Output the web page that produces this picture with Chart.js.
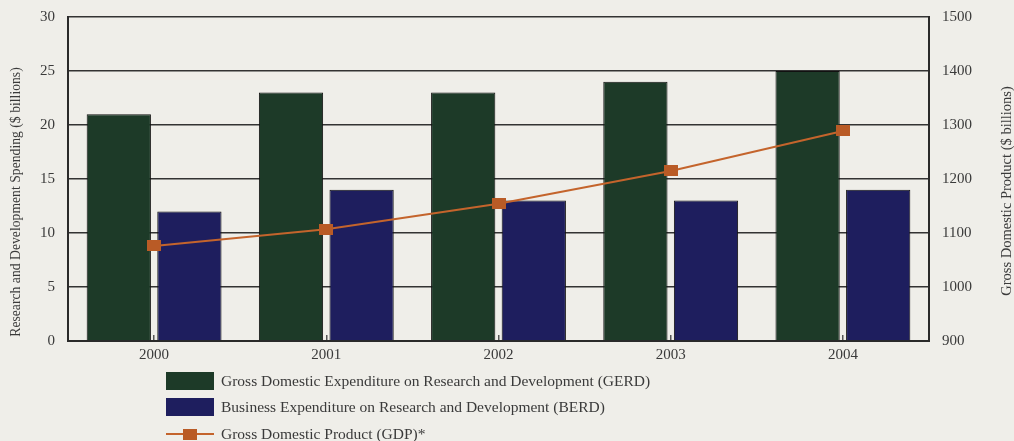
<!DOCTYPE html>
<html>
<head>
<meta charset="utf-8">
<script src="https://cdn.jsdelivr.net/npm/chart.js@4/dist/chart.umd.min.js"></script>
<style>
  html, body { margin: 0; padding: 0; background: #efeee9; }
  #wrap { width: 1014px; height: 441px; position: relative; }
</style>
</head>
<body>
<div id="wrap"><canvas id="c" width="1014" height="441"></canvas></div>
<script>
// Data
const years = ['2000', '2001', '2002', '2003', '2004'];
const gerd = [21, 23, 23, 24, 25];
const berd = [12, 14, 13, 13, 14];
const gdp = [1076, 1107, 1154, 1215, 1289];
const leftTicks = [0, 5, 10, 15, 20, 25, 30];
const rightTicks = [900, 1000, 1100, 1200, 1300, 1400, 1500];
const seriesNames = [
  'Gross Domestic Expenditure on Research and Development (GERD)',
  'Business Expenditure on Research and Development (BERD)',
  'Gross Domestic Product (GDP)*'
];
const leftTitle = 'Research and Development Spending ($ billions)';
const rightTitle = 'Gross Domestic Product ($ billions)';

// Styles
const FONT = '"Liberation Serif", "DejaVu Serif", serif';
const TEXT = '#3a3a3a';
const GREEN = '#1d3a28';
const NAVY = '#1e1e5e';
const ORANGE = '#c4642c';
const MARK = '#b95b26';

// Small rectangular marker for the GDP line
const marker = document.createElement('canvas');
marker.width = 14; marker.height = 11;
(function () {
  const m = marker.getContext('2d');
  m.fillStyle = MARK;
  m.fillRect(0, 0, 14, 11);
})();

// Axis titles, both reading bottom-to-top
const axisTitles = {
  id: 'axisTitles',
  afterDraw(chart) {
    const ctx = chart.ctx;
    ctx.save();
    ctx.fillStyle = TEXT;
    ctx.textAlign = 'center';
    ctx.textBaseline = 'middle';
    [[16, 202, 13.7, leftTitle], [1007, 191, 14.5, rightTitle]].forEach(([x, y, size, t]) => {
      ctx.save();
      ctx.font = size + 'px ' + FONT;
      ctx.translate(x, y);
      ctx.rotate(-Math.PI / 2);
      ctx.fillText(t, 0, 0);
      ctx.restore();
    });
    ctx.restore();
  }
};

// Stacked legend below the plot
const stackedLegend = {
  id: 'stackedLegend',
  afterDraw(chart) {
    const ctx = chart.ctx;
    const bx = 166, bw = 48, tx = 221;
    const rows = [381, 407, 434];
    ctx.save();
    ctx.font = '15.5px ' + FONT;
    ctx.textBaseline = 'middle';
    ctx.textAlign = 'left';
    const ds = chart.data.datasets;
    const items = [ds[1], ds[2], ds[0]];
    items.forEach((d, i) => {
      const y = rows[i];
      if (d.type === 'line') {
        ctx.strokeStyle = d.borderColor;
        ctx.lineWidth = 2;
        ctx.beginPath();
        ctx.moveTo(bx, y);
        ctx.lineTo(bx + bw, y);
        ctx.stroke();
        ctx.drawImage(marker, bx + bw / 2 - 7, y - 5.5);
      } else {
        ctx.fillStyle = d.backgroundColor;
        ctx.fillRect(bx, y - 9, bw, 18);
      }
      ctx.fillStyle = TEXT;
      ctx.fillText(d.label, tx, y + 1);
    });
    ctx.restore();
  }
};

// Fixed axis sizes so the plot area lines up with the page layout
const fitVertical = width => s => {
  s.width = width;
  s.paddingTop = 4;
  s.paddingBottom = 4;
};

new Chart(document.getElementById('c'), {
  data: {
    labels: years,
    datasets: [
      {
        type: 'line', label: seriesNames[2], data: gdp, yAxisID: 'y1', order: 0,
        borderColor: ORANGE, borderWidth: 2, tension: 0,
        pointStyle: marker, pointRadius: 7, pointHoverRadius: 7,
        backgroundColor: MARK
      },
      {
        type: 'bar', label: seriesNames[0], data: gerd, yAxisID: 'y', order: 1,
        backgroundColor: GREEN, borderColor: '#111', borderWidth: 1,
        categoryPercentage: 0.82, barPercentage: 0.91
      },
      {
        type: 'bar', label: seriesNames[1], data: berd, yAxisID: 'y', order: 2,
        backgroundColor: NAVY, borderColor: '#111', borderWidth: 1,
        categoryPercentage: 0.82, barPercentage: 0.91
      }
    ]
  },
  options: {
    responsive: false,
    animation: false,
    devicePixelRatio: 1,
    layout: { padding: { top: 17, left: 0, right: 0, bottom: 0 } },
    plugins: { legend: { display: false }, tooltip: { enabled: false } },
    scales: {
      x: {
        offset: true,
        grid: { display: true, offset: false, drawOnChartArea: false, drawTicks: true, tickLength: -6, color: '#555', lineWidth: 1.5 },
        border: { display: true, color: '#2a2a2a', width: 2 },
        ticks: { color: TEXT, font: { family: FONT, size: 15 }, padding: 11, maxRotation: 0 },
        afterFit: s => { s.height = 100; }
      },
      y: {
        position: 'left', min: 0, max: 30,
        afterBuildTicks: s => { s.ticks = leftTicks.map(v => ({ value: v })); },
        grid: { color: '#333', lineWidth: 1.5, drawTicks: false },
        border: { display: true, color: '#2a2a2a', width: 2 },
        ticks: { color: TEXT, font: { family: FONT, size: 15 }, padding: 13 },
        afterFit: fitVertical(68)
      },
      y1: {
        position: 'right', min: 900, max: 1500,
        afterBuildTicks: s => { s.ticks = rightTicks.map(v => ({ value: v })); },
        grid: { drawOnChartArea: false, drawTicks: false },
        border: { display: true, color: '#2a2a2a', width: 2 },
        ticks: { color: TEXT, font: { family: FONT, size: 15 }, padding: 13, callback: v => String(v) },
        afterFit: fitVertical(85)
      }
    }
  },
  plugins: [axisTitles, stackedLegend]
});
</script>
</body>
</html>
